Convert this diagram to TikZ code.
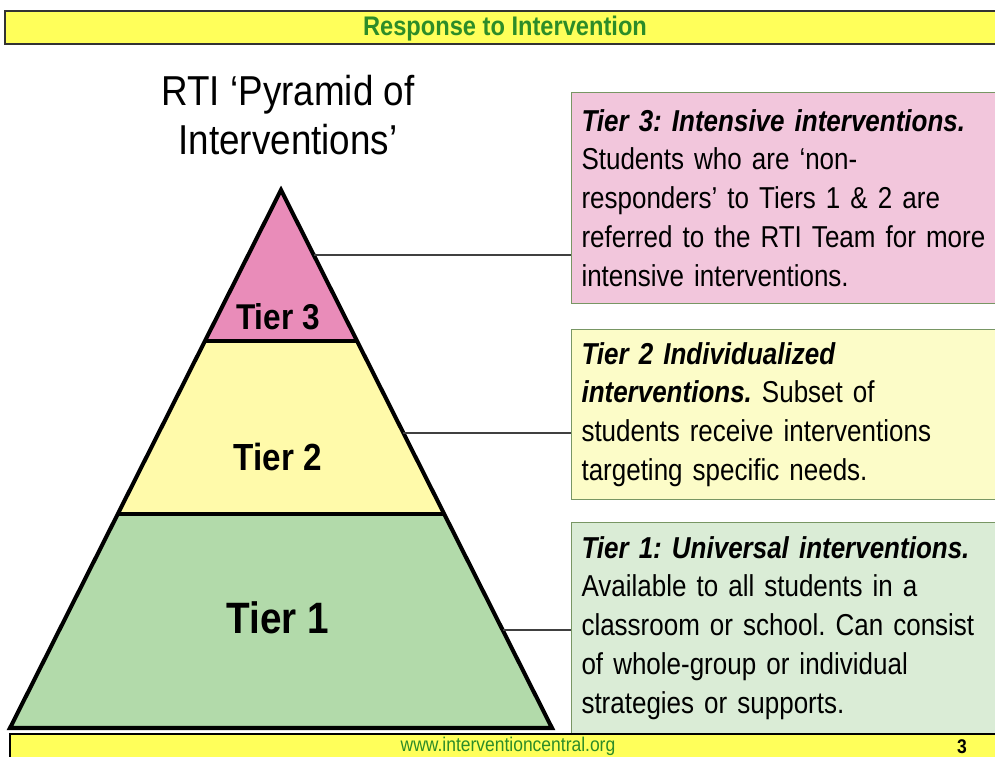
\documentclass[tikz,border=0pt]{standalone}
\usepackage{fontspec}
\setmainfont{Liberation Sans}[FakeStretch=0.88]
\newfontfamily\boxfont{Liberation Sans}[FakeStretch=0.86, WordSpace=0.8]
\usepackage{xcolor}
\usepackage{tikz}
\usetikzlibrary{positioning,calc}
\frenchspacing

\definecolor{bannerYellow}{RGB}{255,255,90}
\definecolor{bannerGreen}{RGB}{45,140,40}
\definecolor{tierPink}{RGB}{233,140,185}
\definecolor{tierYellow}{RGB}{255,250,170}
\definecolor{tierGreen}{RGB}{178,218,170}
\definecolor{boxPink}{RGB}{242,198,220}
\definecolor{boxYellow}{RGB}{252,252,200}
\definecolor{boxGreen}{RGB}{218,236,214}
\definecolor{boxEdge}{RGB}{120,150,100}

\newcommand{\tierhead}[1]{\textbf{\textit{#1}}}

\begin{document}
\begin{tikzpicture}[x=0.02cm, y=-0.02cm,
    tierbox/.style={draw=boxEdge, line width=0.6pt, anchor=north west,
        text width=8.18cm, minimum width=8.58cm, inner xsep=0.2cm, inner ysep=0pt,
        align=left, font=\boxfont\fontsize{17.2}{22.1}\selectfont},
    tierlabel/.style={font=\bfseries\fontsize{#1}{#1}\selectfont},
    leader/.style={draw=black!75, line width=0.8pt}]
    \useasboundingbox (0,0) rectangle (995,757);

    % Heading banner
    \fill[bannerYellow] (5,11) rectangle (1000,44);
    \draw[black!80, line width=1pt] (1000,11) -- (5,11) -- (5,44) -- (1000,44);
    \node[font=\bfseries\fontsize{15.3}{15.3}\selectfont, text=bannerGreen] (heading) at (505,29) {Response to Intervention};

    % Title
    \node[align=center, font=\fontsize{23.8}{28.3}\selectfont] (title) at (288,115) {RTI ‘Pyramid of\\Interventions’};

    % Pyramid corners and tier boundaries
    \coordinate (apex) at (281,190);
    \coordinate (baseL) at (10,728);
    \coordinate (baseR) at (552,728);
    \coordinate (t3L) at ($(apex)!0.2807!(baseL)$);
    \coordinate (t3R) at ($(apex)!0.2807!(baseR)$);
    \coordinate (t2L) at ($(apex)!0.6022!(baseL)$);
    \coordinate (t2R) at ($(apex)!0.6022!(baseR)$);

    \fill[tierPink] (apex) -- (t3R) -- (t3L) -- cycle;
    \fill[tierYellow] (t3L) -- (t3R) -- (t2R) -- (t2L) -- cycle;
    \fill[tierGreen] (t2L) -- (t2R) -- (baseR) -- (baseL) -- cycle;
    \draw[line width=1.8pt] (t3L) -- (t3R) (t2L) -- (t2R);
    \draw[line width=2.3pt, line join=miter] (apex) -- (baseR) -- (baseL) -- cycle;

    \node[tierlabel=20.4] (tier3) at (278,317) {Tier 3};
    \node[tierlabel=21.5] (tier2) at (278,457) {Tier 2};
    \node[tierlabel=25] (tier1) at (278,618) {Tier 1};

    % Description boxes
    \node[tierbox, fill=boxPink, minimum height=4.22cm] (tier3box) at (571,92) {%
        \tierhead{Tier 3: Intensive interventions.}\\
        Students who are ‘non-\\
        responders’ to Tiers 1 \& 2 are\\
        referred to the RTI Team for more\\
        intensive interventions.};
    \node[tierbox, fill=boxYellow, minimum height=3.4cm] (tier2box) at (571,329) {%
        \tierhead{Tier 2 Individualized}\\
        \tierhead{interventions.} Subset of\\
        students receive interventions\\
        targeting specific needs.};
    \node[tierbox, fill=boxGreen, minimum height=4.22cm] (tier1box) at (571,522) {%
        \tierhead{Tier 1: Universal interventions.}\\
        Available to all students in a\\
        classroom or school. Can consist\\
        of whole-group or individual\\
        strategies or supports.};

    % Leaders from the pyramid edge to the boxes
    \coordinate (lead3) at ($(apex)!0.1208!(baseR)$);
    \coordinate (lead2) at ($(apex)!0.4517!(baseR)$);
    \coordinate (lead1) at ($(apex)!0.8178!(baseR)$);
    \draw[leader] (lead3) -- (lead3 -| tier3box.west);
    \draw[leader] (lead2) -- (lead2 -| tier2box.west);
    \draw[leader] (lead1) -- (lead1 -| tier1box.west);

    % Footer banner
    \fill[bannerYellow] (10,734) rectangle (1000,760);
    \draw[black, line width=1.2pt] (10,760) -- (10,734) -- (1000,734);
    \node[font=\fontsize{11.3}{11.3}\selectfont, text=bannerGreen] (site) at (508,746) {www.interventioncentral.org};
    \node[font=\bfseries\fontsize{11.3}{11.3}\selectfont] (pagenum) at (962,747) {3};
\end{tikzpicture}
\end{document}
